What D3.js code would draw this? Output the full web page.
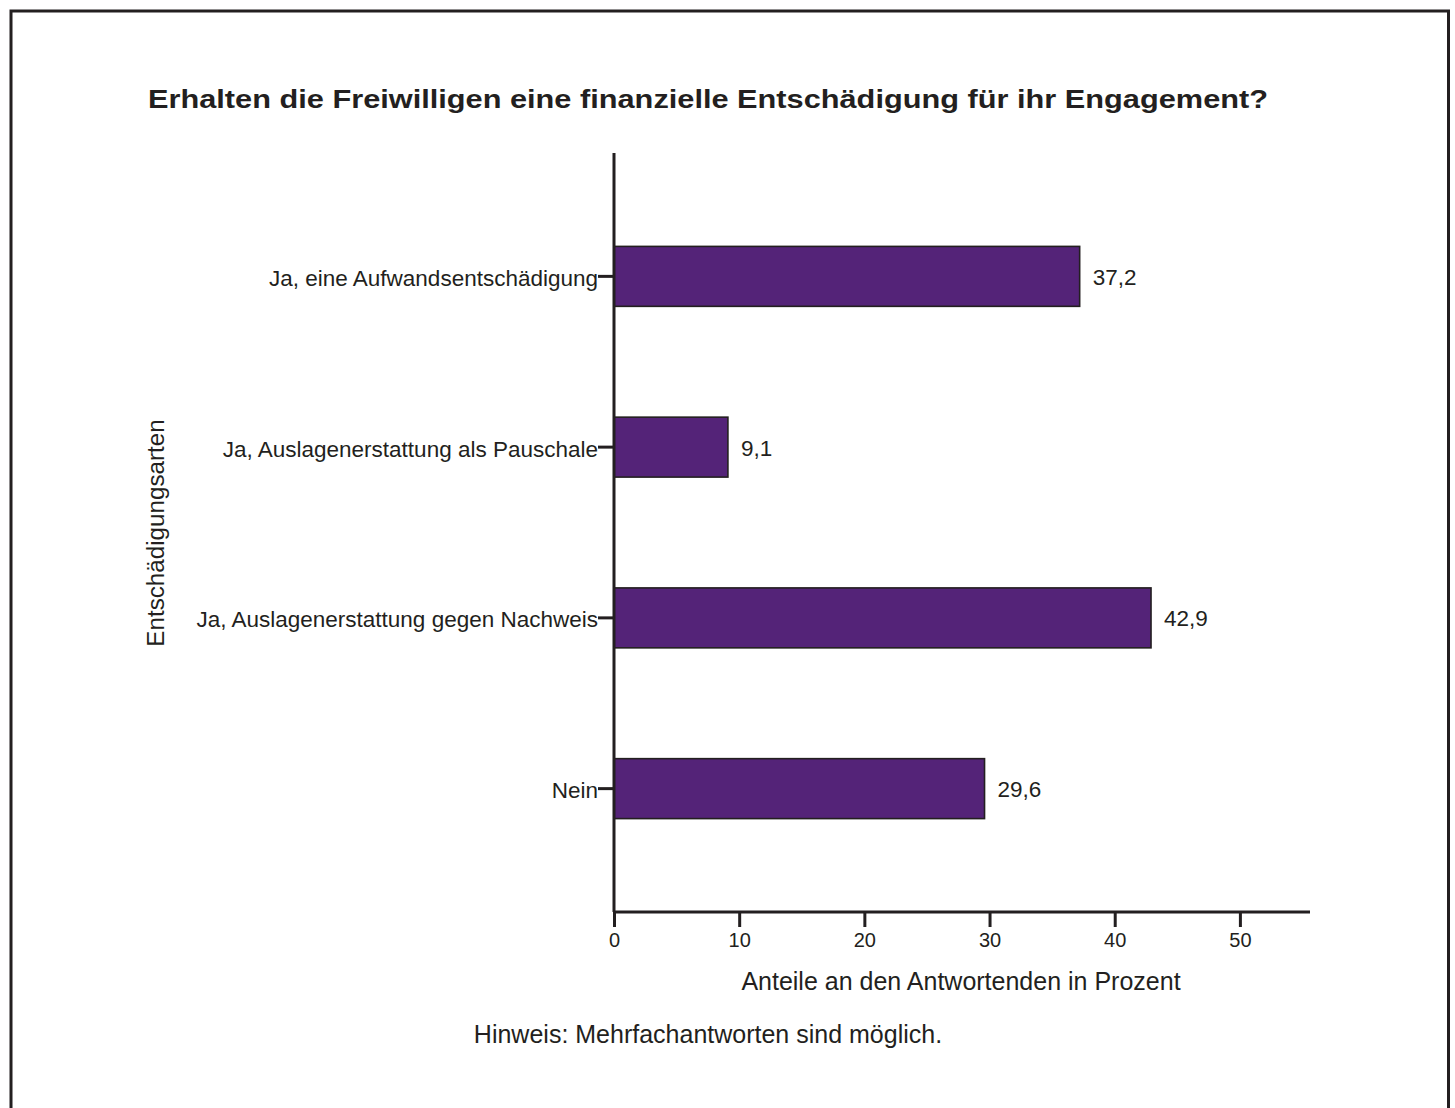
<!DOCTYPE html>
<html lang="de">
<head>
  <meta charset="UTF-8">
  <title>Finanzielle Entschädigung</title>
  <script src="https://d3js.org/d3.v7.min.js"></script>
  <style>
    body { margin: 0; background: #fff; }
    svg { display: block; }
    svg text { fill: #231f20; font-family: Arial, Helvetica, "Liberation Sans", "DejaVu Sans", sans-serif; }
  </style>
</head>
<body>
  <svg id="chart" width="1455" height="1108"></svg>

<script>
// Daten
const categories = [
  "Ja, eine Aufwandsentschädigung",
  "Ja, Auslagenerstattung als Pauschale",
  "Ja, Auslagenerstattung gegen Nachweis",
  "Nein"
];
const values = [37.2, 9.1, 42.9, 29.6];
const xTicks = [0, 10, 20, 30, 40, 50];

const titleText = "Erhalten die Freiwilligen eine finanzielle Entschädigung für ihr Engagement?";
const xTitle = "Anteile an den Antwortenden in Prozent";
const yTitle = "Entschädigungsarten";
const noteText = "Hinweis: Mehrfachantworten sind möglich.";

const ink = "#231f20";
const svg = d3.select("#chart");

// Rahmen
svg.append("rect")
  .attr("x", 11).attr("y", 11)
  .attr("width", 1437.5).attr("height", 1120)
  .attr("fill", "none")
  .attr("stroke", ink)
  .attr("stroke-width", 3);

const x = d3.scaleLinear().domain([0, 55.6]).range([614, 1310]);
const y = d3.scaleBand()
  .domain(categories)
  .range([153, 912])
  .paddingInner(0.649)
  .paddingOuter(0.547);

// Titel (breit gesetzt wie im Original)
svg.append("text")
  .attr("x", 148).attr("y", 108)
  .attr("textLength", 1120)
  .attr("lengthAdjust", "spacingAndGlyphs")
  .style("font-size", "26px")
  .style("font-weight", "bold")
  .text(titleText);

// Balken
svg.selectAll("rect.bar")
  .data(values)
  .join("rect")
  .attr("class", "bar")
  .attr("x", x(0))
  .attr("y", (d, i) => y(categories[i]))
  .attr("width", d => x(d) - x(0))
  .attr("height", y.bandwidth())
  .attr("fill", "#542378")
  .attr("stroke", ink)
  .attr("stroke-width", 1.6);

// Werte
svg.selectAll("text.val")
  .data(values)
  .join("text")
  .attr("class", "val")
  .attr("x", d => x(d) + 13)
  .attr("y", (d, i) => y(categories[i]) + y.bandwidth() / 2)
  .attr("dy", "0.38em")
  .style("font-size", "22.5px")
  .text(d => d.toFixed(1).replace(".", ","));

// x-Achse
const xAxis = svg.append("g")
  .attr("transform", "translate(0,912)")
  .call(d3.axisBottom(x).tickValues(xTicks).tickSize(15).tickPadding(6).tickFormat(d3.format("d")));
xAxis.attr("font-family", null).attr("font-size", null);
xAxis.select(".domain").attr("stroke", ink).attr("stroke-width", 3).attr("d", "M614,0H1310");
xAxis.selectAll(".tick line").attr("stroke", ink).attr("stroke-width", 3);
xAxis.selectAll(".tick text").style("font-size", "20px");

// y-Achse
const yAxis = svg.append("g")
  .attr("transform", "translate(614,0)")
  .call(d3.axisLeft(y).tickSize(16).tickPadding(0));
yAxis.attr("font-family", null).attr("font-size", null);
yAxis.select(".domain").attr("stroke", ink).attr("stroke-width", 3).attr("d", "M0,153V912");
yAxis.selectAll(".tick line").attr("stroke", ink).attr("stroke-width", 3);
yAxis.selectAll(".tick text").style("font-size", "22.5px").attr("dy", "0.42em");

// Achsentitel
svg.append("text")
  .attr("x", 961).attr("y", 990)
  .attr("text-anchor", "middle")
  .style("font-size", "25px")
  .text(xTitle);

svg.append("text")
  .attr("transform", "translate(164,533) rotate(-90)")
  .attr("text-anchor", "middle")
  .style("font-size", "24.2px")
  .text(yTitle);

// Hinweis
svg.append("text")
  .attr("x", 708).attr("y", 1043)
  .attr("text-anchor", "middle")
  .style("font-size", "25px")
  .text(noteText);
</script>
</body>
</html>
